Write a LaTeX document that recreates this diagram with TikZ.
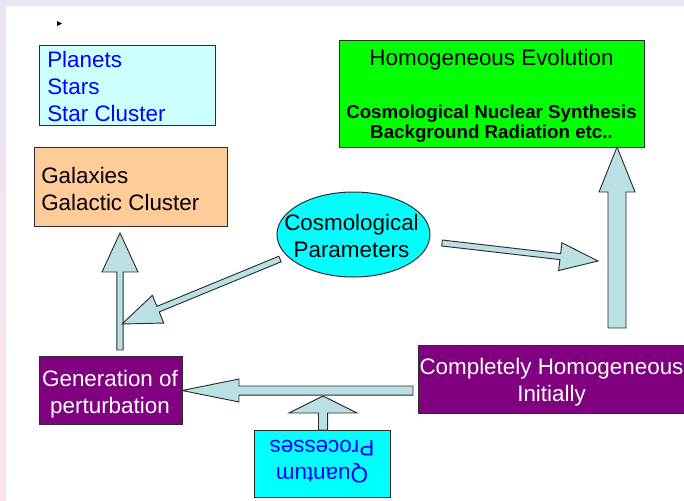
\documentclass[tikz,border=0pt]{standalone}
\usepackage{fontspec}
\setmainfont{Liberation Sans}
\usetikzlibrary{calc,shapes.geometric}
\definecolor{bgl}{RGB}{235,228,245}
\definecolor{bgp}{RGB}{252,228,234}
\definecolor{pale}{RGB}{204,255,255}
\definecolor{peach}{RGB}{255,204,153}
\definecolor{brightgreen}{RGB}{0,255,0}
\definecolor{cyanfill}{RGB}{0,255,255}
\definecolor{purp}{RGB}{128,0,128}
\definecolor{arrfill}{RGB}{187,224,227}
\definecolor{edge}{RGB}{45,45,45}
\definecolor{txtblue}{RGB}{0,0,255}
\tikzset{
  box/.style={draw=edge, line width=0.75pt, rectangle, inner sep=0pt, anchor=north west},
  big/.style={font=\fontsize{16.8}{20.25}\selectfont, inner sep=0pt},
  boldtxt/.style={font=\fontsize{14.05}{15}\selectfont\bfseries, inner sep=0pt},
  barrow/.style={draw=edge, line width=0.7pt, fill=arrfill, line join=miter},
}
% #1 tail, #2 tip, #3 shaft half width, #4 head half width, #5 head length
\newcommand\blockarr[5]{%
  \coordinate (#1hb) at ($(#2)!#5!(#1)$);
  \draw[barrow] ($(#1)!#3!90:(#2)$) -- ($(#1hb)!#3!90:(#2)$) -- ($(#1hb)!#4!90:(#2)$)
    -- (#2) -- ($(#1hb)!#4!-90:(#2)$) -- ($(#1hb)!#3!-90:(#2)$) -- ($(#1)!#3!-90:(#2)$) -- cycle;
}
\begin{document}
\begin{tikzpicture}[x=0.75pt,y=-0.75pt]
\useasboundingbox (0,0) rectangle (684,500);
% background
\fill[white] (0,0) rectangle (684,500);
\fill[bgl] (0,0) rectangle (684,6);
\shade[top color=bgl,bottom color=bgp] (0,0) rectangle (6,500);
\fill[black] (57,21) -- (62,23.5) -- (57,26) -- cycle;

% boxes
\node[box, fill=pale, minimum width={176*0.75pt}, minimum height={80*0.75pt}] (planets) at (39,45) {};
\node[big, text=txtblue, anchor=west, align=left] (planetstxt) at (47,86.5) {Planets\\Stars\\Star Cluster};

\node[box, fill=brightgreen, minimum width={305*0.75pt}, minimum height={107*0.75pt}] (homog) at (339,40) {};
\node[big] (homogtitle) at (491.5,60) {Homogeneous Evolution};
\node[boldtxt, align=center] (homogbold) at (491.5,123.5) {Cosmological Nuclear Synthesis\\Background Radiation etc..};

\node[box, fill=peach, minimum width={193*0.75pt}, minimum height={79*0.75pt}] (galaxies) at (34,147) {};
\node[big, anchor=west, align=left] (galaxiestxt) at (41,188.5) {Galaxies\\Galactic Cluster};

\node[draw=edge, line width=0.75pt, fill=cyanfill, ellipse, inner sep=0pt,
      minimum width={153*0.75pt}, minimum height={85*0.75pt}] (cosmo) at (353.5,234.5) {};
\node[big, align=center] (cosmotxt) at (351.5,236) {Cosmological\\Parameters};

\node[box, fill=purp, minimum width={143*0.75pt}, minimum height={68*0.75pt}] (gener) at (39,356) {};
\node[big, text=white, align=center] (genertxt) at (110,394) {Generation of\\perturbation};

\node[box, fill=purp, minimum width={270*0.75pt}, minimum height={68*0.75pt}] (complete) at (418,345) {};
\node[big, text=white, align=center] (completetxt) at (551.5,382) {Completely Homogeneous\\Initially};

\node[box, fill=cyanfill, minimum width={136*0.75pt}, minimum height={67*0.75pt}] (quantum) at (254,430) {};
\node[big, text=txtblue, align=center, rotate=180] (quantumtxt) at (322,461.5) {Quantum\\Processes};

% arrow end points
\coordinate (aGt) at (120,350);   \coordinate (aGh) at (120,233);
\coordinate (aDt) at (280,259);   \coordinate (aDh) at (122,324);
\coordinate (aRt) at (442,243);   \coordinate (aRh) at (598,261);
\coordinate (aUt) at (617,328);   \coordinate (aUh) at (617,147);
\coordinate (aLt) at (413,390.5); \coordinate (aLh) at (182,390.5);
\coordinate (aQt) at (323,430);   \coordinate (aQh) at (323,396);

\blockarr{aGt}{aGh}{2.4pt}{13.5pt}{29.25pt}
\blockarr{aDt}{aDh}{2.25pt}{11.25pt}{29.25pt}
\blockarr{aRt}{aRh}{2.25pt}{10.5pt}{28.5pt}
\blockarr{aUt}{aUh}{6.75pt}{13.5pt}{33.75pt}
\blockarr{aLt}{aLh}{3.4pt}{8.6pt}{42.75pt}
\blockarr{aQt}{aQh}{3.4pt}{25.5pt}{12.75pt}
\end{tikzpicture}
\end{document}
